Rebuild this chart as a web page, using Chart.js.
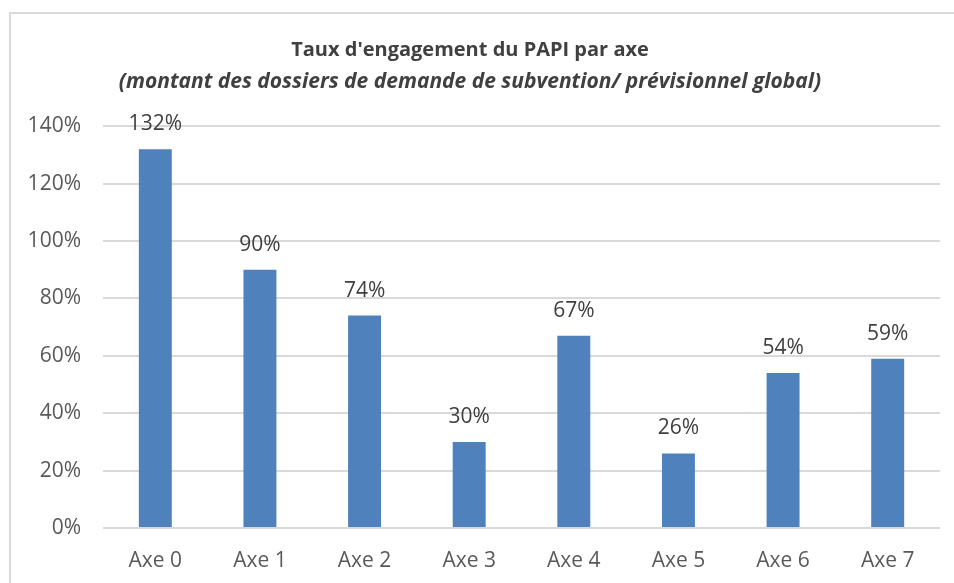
<!DOCTYPE html>
<html lang="fr">
<head>
<meta charset="utf-8">
<title>Taux d'engagement du PAPI par axe</title>
<script src="https://cdn.jsdelivr.net/npm/chart.js@4.4.1/dist/chart.umd.min.js"></script>
<style>
    html, body { margin: 0; padding: 0; background: #fff; overflow: hidden; }
    .frame {
        position: absolute;
        left: 9px;
        top: 12px;
        width: 980px;
        height: 620px;
        border: 2px solid #d9d9d9;
    }
    .canvas-wrap {
        position: absolute;
        left: 0;
        top: 0;
        width: 954px;
        height: 583px;
    }
</style>
</head>
<body>
<div class="frame"></div>
<div class="canvas-wrap"><canvas id="axeChart"></canvas></div>
<script>
    const AXE_LABELS = ['Axe 0', 'Axe 1', 'Axe 2', 'Axe 3', 'Axe 4', 'Axe 5', 'Axe 6', 'Axe 7'];
    const TAUX_ENGAGEMENT = [132, 90, 74, 30, 67, 26, 54, 59];
    const Y_MAX = 140;
    const Y_STEP = 20;

    const TEXT_GRAY = '#595959';
    const DARK_GRAY = '#404040';
    const BAR_BLUE = '#4f81bd';
    const GRID_GRAY = '#d9d9d9';
    const FONT = '"Open Sans", "Liberation Sans", sans-serif';

    // percentage written above each bar
    const barValueLabels = {
        id: 'barValueLabels',
        afterDatasetsDraw(chart) {
            const ctx = chart.ctx;
            const meta = chart.getDatasetMeta(0);
            ctx.save();
            ctx.font = `21px ${FONT}`;
            ctx.fillStyle = DARK_GRAY;
            ctx.textAlign = 'center';
            ctx.textBaseline = 'middle';
            meta.data.forEach((bar, i) => {
                ctx.fillText(TAUX_ENGAGEMENT[i] + '%', bar.x, bar.y - 25);
            });
            ctx.restore();
        }
    };

    new Chart(document.getElementById('axeChart'), {
        type: 'bar',
        data: {
            labels: AXE_LABELS,
            datasets: [{
                data: TAUX_ENGAGEMENT,
                backgroundColor: BAR_BLUE,
                borderWidth: 0,
                categoryPercentage: 1,
                barPercentage: 0.315
            }]
        },
        options: {
            responsive: true,
            maintainAspectRatio: false,
            animation: false,
            layout: { padding: { left: 0, right: 14, top: 0, bottom: 0 } },
            plugins: {
                legend: { display: false },
                tooltip: { enabled: false },
                title: {
                    display: true,
                    text: "Taux d'engagement du PAPI par axe",
                    color: DARK_GRAY,
                    font: { family: FONT, size: 20, weight: 'bold' },
                    padding: { top: 38, bottom: 6 }
                },
                subtitle: {
                    display: true,
                    text: '(montant des dossiers de demande de subvention/ prévisionnel global)',
                    color: DARK_GRAY,
                    font: { family: FONT, size: 21, weight: 'bold', style: 'italic' },
                    padding: { top: 1, bottom: 32 }
                }
            },
            scales: {
                x: {
                    border: { display: false },
                    grid: { display: false },
                    ticks: {
                        color: TEXT_GRAY,
                        font: { family: FONT, size: 21 },
                        padding: 12,
                        maxRotation: 0
                    },
                    afterFit(scale) { scale.height = 55; }
                },
                y: {
                    min: 0,
                    max: Y_MAX,
                    border: { display: false },
                    grid: { color: GRID_GRAY, lineWidth: 2, drawTicks: false },
                    ticks: {
                        stepSize: Y_STEP,
                        color: TEXT_GRAY,
                        font: { family: FONT, size: 21 },
                        padding: 22,
                        callback: value => value + '%'
                    },
                    afterFit(scale) { scale.width = 103; }
                }
            }
        },
        plugins: [barValueLabels]
    });
</script>
</body>
</html>
